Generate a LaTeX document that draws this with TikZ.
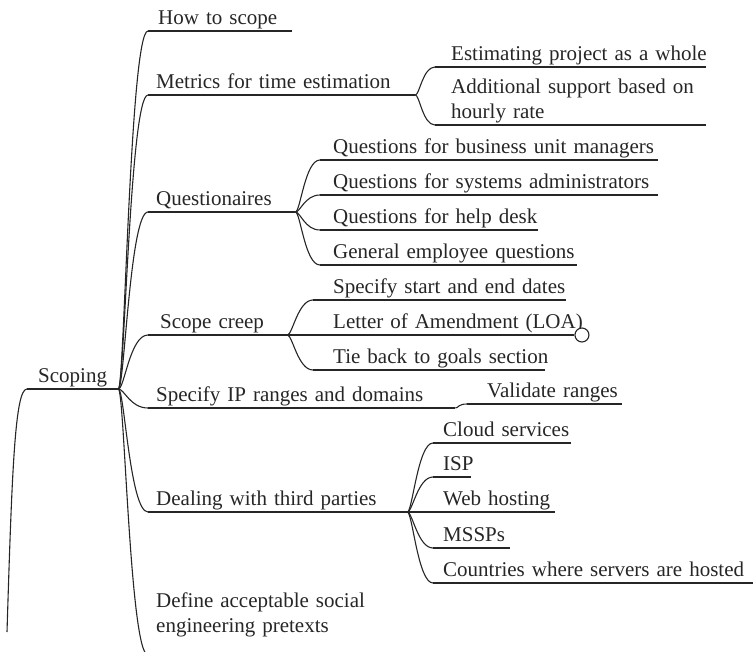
\documentclass[tikz,border=0pt]{standalone}
\usepackage{fontspec}
\setmainfont{Liberation Serif}
\tikzset{
  x=1pt, y=-1pt,
  topic/.style = {anchor=south west, align=left, inner xsep=0pt, inner ysep=1.5pt,
    text depth=5pt, text width=#1, text=black!85, font=\fontsize{21}{25}\selectfont},
  pad/.style = {execute at begin node={\leftskip=#1pt\rightskip=-40pt plus 1fil\relax}},
  pad/.default = 10,
  two_lines/.style = {text depth=30pt},
  link/.style = {draw=black!85, line width=1.1pt},
  branch/.style = {to path={.. controls +(#1,0) and +(-3*#1,0) .. (\tikztotarget)}},
  knob/.style = {circle, draw=black!85, line width=1.1pt, fill=white, inner sep=0pt, minimum size=14pt}
}
\begin{document}
\begin{tikzpicture}
\useasboundingbox (0,0) rectangle (753,652);

% root
\node [topic=91, pad=11] (scoping) at (27,389) {Scoping};
\coordinate (trunk) at (7,632);

% first level
\node [topic=144, pad] (how) at (148,31) {How to scope};
\node [topic=267, pad=8] (metrics) at (148,95) {Metrics for time estimation};
\node [topic=147, pad=8] (quest) at (148,212) {Questionaires};
\node [topic=139, pad=12] (creep) at (148,335) {Scope creep};
\node [topic=307, pad=8] (ip) at (148,408) {Specify IP ranges and domains};
\node [topic=259, pad=8] (third) at (148,512) {Dealing with third parties};
\node [topic=270, pad=8, two_lines, inner ysep=17pt] (define) at (148,655)
  {Define acceptable social\\engineering pretexts};

% metrics
\node [topic=271, pad=16] (whole) at (435,67) {Estimating project as a whole};
\node [topic=271, pad=16, two_lines] (hourly) at (435,125) {Additional support based on\\hourly rate};

% questionaires
\node [topic=338, pad=13] (qbiz) at (320,160) {Questions for business unit managers};
\node [topic=338, pad=13] (qsys) at (320,195) {Questions for systems administrators};
\node [topic=218, pad=13] (qhelp) at (320,230) {Questions for help desk};
\node [topic=257, pad=13] (qgen) at (320,265) {General employee questions};

% scope creep
\node [topic=253, pad=20] (dates) at (313,300) {Specify start and end dates};
\node [topic=261, pad=20] (loa) at (313,335) {Letter of Amendment (LOA)};
\node [topic=232, pad=20] (goals) at (313,370) {Tie back to goals section};
\node [knob, anchor=west] (loa_end) at (loa.south east) {};

% ranges
\node [topic=155, pad=20] (valid) at (467,404) {Validate ranges};

% third parties
\node [topic=138, pad] (cloud) at (433,443) {Cloud services};
\node [topic=38, pad] (isp) at (433,477) {ISP};
\node [topic=122, pad] (web) at (433,512) {Web hosting};
\node [topic=77, pad] (mssp) at (433,548) {MSSPs};
\node [topic=325, pad] (hosted) at (433,583) {Countries where servers are hosted};

% underlines
\foreach \n in {scoping,how,metrics,quest,creep,ip,third,define,whole,hourly,
  qbiz,qsys,qhelp,qgen,dates,loa,goals,valid,cloud,isp,web,mssp,hosted}
  \draw [link] (\n.south west) -- (\n.south east);

% connectors
\draw [link] (scoping.south west) .. controls +(-12,0) and +(5,-162) .. (trunk);
\foreach \c in {how,metrics,quest,creep,ip,third,define}
  \draw [link] (scoping.south east) to[branch=6] (\c.south west);
\foreach \c in {whole,hourly}
  \draw [link] (metrics.south east) to[branch=4] (\c.south west);
\foreach \c in {qbiz,qsys,qhelp,qgen}
  \draw [link] (quest.south east) to[branch=5] (\c.south west);
\foreach \c in {dates,loa,goals}
  \draw [link] (creep.south east) to[branch=5] (\c.south west);
\draw [link] (ip.south east) to[branch=3] (valid.south west);
\foreach \c in {cloud,isp,web,mssp,hosted}
  \draw [link] (third.south east) to[branch=5] (\c.south west);
\end{tikzpicture}
\end{document}
